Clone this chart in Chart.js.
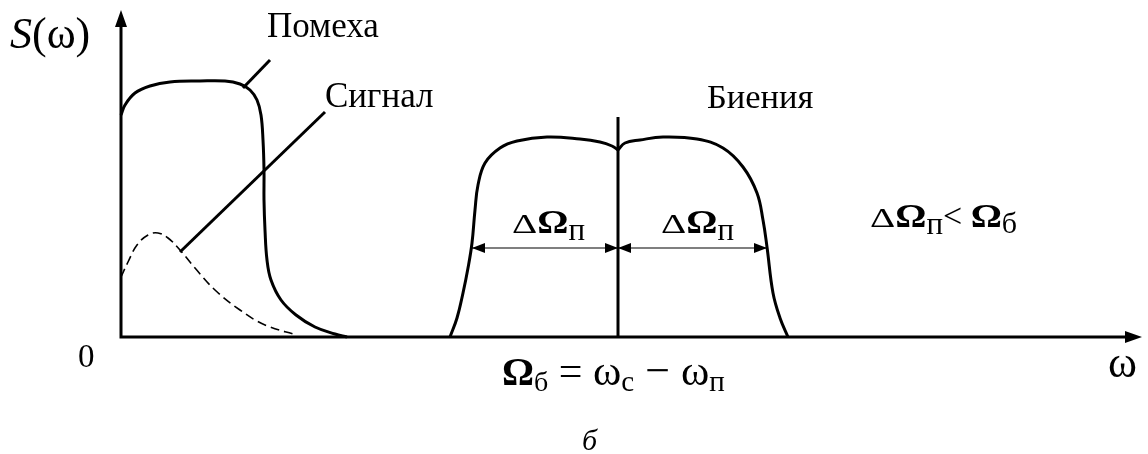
<!DOCTYPE html>
<html>
<head>
<meta charset="utf-8">
<script src="https://cdn.jsdelivr.net/npm/chart.js@4/dist/chart.umd.min.js"></script>
<style>
  html, body { margin: 0; padding: 0; background: #fff; }
  canvas { display: block; }
</style>
</head>
<body>
<canvas id="c" width="1148" height="454"></canvas>
<script>
// 軸の範囲 (x: ω, y: S(ω))
const xMax = 1021;
const yMax = 327;

// помеха (実線)
const noiseX = [0, 4, 14, 29, 49, 79, 104, 119, 129, 136, 140, 142, 143, 143, 144, 146, 150, 160, 175, 194, 214, 226];
const noiseY = [222, 232, 244, 251, 255, 256, 256, 253, 247, 237, 222, 197, 167, 137, 107, 77, 57, 37, 22, 10, 3, 0];

// сигнал (破線)
const signalX = [0, 7, 16, 27, 37, 47, 59, 74, 94, 119, 144, 176];
const signalY = [60, 75, 92, 102, 104, 99, 87, 69, 47, 27, 12, 2];

// биения (左右の山)
const beatLeftX = [329, 336, 342, 347, 351, 354, 357, 364, 379, 396, 426, 459, 479, 491, 497];
const beatLeftY = [0, 19, 44, 69, 94, 127, 152, 174, 189, 196, 200, 198, 195, 191, 187];
const beatRightX = [497, 504, 519, 542, 576, 602, 622, 636, 642, 646, 652, 659, 667];
const beatRightY = [187, 194, 197, 200, 198, 189, 170, 144, 117, 90, 44, 19, 0];

// Ω_б の縦線
const centerX = [497, 497];
const centerY = [0, 220];

// 引出線
const noiseLeaderX = [122, 149];
const noiseLeaderY = [249, 277];
const signalLeaderX = [59, 204];
const signalLeaderY = [85, 225];

// ΔΩп の矢印
const arrowLeftX = [351, 497];
const arrowRightX = [497, 646];
const arrowY = [89, 89];

const zip = (xs, ys) => xs.map((x, i) => ({ x: x, y: ys[i] }));

const SERIF = '"Liberation Serif", "Times New Roman", serif';
const f = (size, style = '') => `${style} ${size}px ${SERIF}`.trim();

// ΔΩ の部品 (記号フォントに近づけるため横に少し広げる)
const DELTA = { t: 'Δ', f: f(28), sx: 1.4 };
const OMEGA = { t: 'Ω', f: f(33, 'bold'), sx: 1.18 };
const subP = { t: 'п', f: f(31), dy: 7 };

// テキスト (データ座標で配置)
const labels = [
  { x: -111, y: 289, runs: [{ t: 'S', f: f(44, 'italic') }, { t: '(ω)', f: f(44) }] },
  { x: 146, y: 300, runs: [{ t: 'Помеха', f: f(35) }] },
  { x: 204, y: 230, runs: [{ t: 'Сигнал', f: f(35) }] },
  { x: 586, y: 229, runs: [{ t: 'Биения', f: f(34.5) }] },
  { x: 391, y: 104, runs: [DELTA, OMEGA, subP] },
  { x: 540, y: 104, runs: [DELTA, OMEGA, subP] },
  { x: 749, y: 110, runs: [
      DELTA, OMEGA, subP,
      { t: '< ', f: f(34) }, OMEGA, { t: 'б', f: f(30), dy: 6 }] },
  { x: -43, y: -30, runs: [{ t: '0', f: f(33) }] },
  { x: 987, y: -40, runs: [{ t: 'ω', f: f(44) }] },
  { x: 381, y: -48, runs: [
      { t: 'Ω', f: f(40, 'bold') }, { t: 'б', f: f(28), dy: 6 }, { t: ' = ', f: f(42) },
      { t: 'ω', f: f(43) }, { t: 'с', f: f(29), dy: 6 }, { t: ' − ', f: f(44) },
      { t: 'ω', f: f(43) }, { t: 'п', f: f(29), dy: 6 }] },
  { x: 461, y: -113, runs: [{ t: 'б', f: f(30, 'italic') }] },
];

// 軸・矢印・テキストを描くプラグイン
const decorPlugin = {
  id: 'decor',
  beforeDatasetsDraw(chart) {
    const { ctx, scales: { x, y } } = chart;
    const x0 = x.getPixelForValue(0), y0 = y.getPixelForValue(0);
    const xe = x.getPixelForValue(xMax), ye = y.getPixelForValue(yMax);
    ctx.save();
    ctx.strokeStyle = '#000';
    ctx.fillStyle = '#000';
    ctx.lineWidth = 3;
    ctx.beginPath();
    ctx.moveTo(x0, y0); ctx.lineTo(x0, ye + 12);
    ctx.moveTo(x0 - 1.5, y0); ctx.lineTo(xe - 14, y0);
    ctx.stroke();
    // 軸の矢印
    ctx.beginPath();
    ctx.moveTo(x0, ye); ctx.lineTo(x0 - 6, ye + 17); ctx.lineTo(x0 + 6, ye + 17); ctx.closePath();
    ctx.moveTo(xe, y0); ctx.lineTo(xe - 17, y0 - 6); ctx.lineTo(xe - 17, y0 + 6); ctx.closePath();
    ctx.fill();
    ctx.restore();
  },
  afterDatasetsDraw(chart) {
    const { ctx, scales: { x, y } } = chart;
    ctx.save();
    ctx.fillStyle = '#000';
    // ΔΩп の矢じり
    const ay = y.getPixelForValue(arrowY[0]);
    const head = (px, dir) => {
      ctx.beginPath();
      ctx.moveTo(px, ay);
      ctx.lineTo(px - dir * 13, ay - 5);
      ctx.lineTo(px - dir * 13, ay + 5);
      ctx.closePath();
      ctx.fill();
    };
    head(x.getPixelForValue(arrowLeftX[0]), -1);
    head(x.getPixelForValue(arrowLeftX[1]), 1);
    head(x.getPixelForValue(arrowRightX[0]), -1);
    head(x.getPixelForValue(arrowRightX[1]), 1);

    ctx.textBaseline = 'alphabetic';
    ctx.textAlign = 'left';
    labels.forEach((lb) => {
      let px = x.getPixelForValue(lb.x);
      const py = y.getPixelForValue(lb.y);
      lb.runs.forEach((r) => {
        const sx = r.sx || 1;
        ctx.font = r.f;
        ctx.save();
        ctx.translate(px, py + (r.dy || 0));
        ctx.scale(sx, 1);
        ctx.fillText(r.t, 0, 0);
        ctx.restore();
        px += ctx.measureText(r.t).width * sx;
      });
    });
    ctx.restore();
  }
};

const solid = (data, width = 3, tension = 0.4) => ({
  data: data,
  showLine: true,
  borderColor: '#000',
  borderWidth: width,
  pointRadius: 0,
  tension: tension,
  fill: false,
  clip: false,
});

new Chart(document.getElementById('c'), {
  type: 'scatter',
  data: {
    datasets: [
      solid(zip(noiseX, noiseY)),
      Object.assign(solid(zip(signalX, signalY), 1.6), { borderDash: [9, 5] }),
      solid(zip(beatLeftX, beatLeftY)),
      solid(zip(beatRightX, beatRightY)),
      solid(zip(centerX, centerY), 3, 0),
      solid(zip(noiseLeaderX, noiseLeaderY), 3, 0),
      solid(zip(signalLeaderX, signalLeaderY), 3, 0),
      solid(zip(arrowLeftX, arrowY), 1.2, 0),
      solid(zip(arrowRightX, arrowY), 1.2, 0),
    ],
  },
  options: {
    responsive: false,
    animation: false,
    layout: { padding: { left: 121, top: 10, right: 6, bottom: 117 } },
    plugins: { legend: { display: false }, tooltip: { enabled: false } },
    scales: {
      x: { type: 'linear', min: 0, max: xMax, display: false },
      y: { type: 'linear', min: 0, max: yMax, display: false },
    },
  },
  plugins: [decorPlugin],
});
</script>
</body>
</html>
